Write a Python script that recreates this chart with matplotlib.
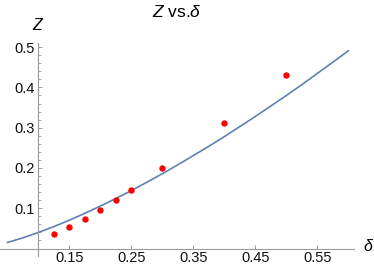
import matplotlib
matplotlib.use("Agg")
import matplotlib.pyplot as plt
from matplotlib.ticker import FixedLocator

plt.rcParams["font.family"] = ["Liberation Sans", "DejaVu Sans"]
plt.rcParams["mathtext.fontset"] = "custom"
plt.rcParams["mathtext.rm"] = "Liberation Sans"
plt.rcParams["mathtext.it"] = "Liberation Sans:italic"

# fitted curve
curve_delta = [0.05, 0.075, 0.1, 0.125, 0.15, 0.175, 0.2, 0.225, 0.25, 0.275, 0.3,
               0.325, 0.35, 0.375, 0.4, 0.425, 0.45, 0.475, 0.5, 0.525, 0.55, 0.575, 0.6]
curve_z = [0.0151, 0.0267, 0.040, 0.0546, 0.0705, 0.0875, 0.1056, 0.1244, 0.144, 0.1647, 0.186,
           0.208, 0.231, 0.254, 0.278, 0.303, 0.328, 0.354, 0.380, 0.407, 0.435, 0.4627, 0.491]

# measured points
pts_delta = [0.125, 0.15, 0.175, 0.2, 0.225, 0.25, 0.3, 0.4, 0.5]
pts_z = [0.035, 0.053, 0.073, 0.095, 0.120, 0.145, 0.1995, 0.3115, 0.431]

x_ticks = [0.15, 0.25, 0.35, 0.45, 0.55]
y_ticks = [0.1, 0.2, 0.3, 0.4, 0.5]

AXIS_GRAY = "#9a9a9a"

fig = plt.figure(figsize=(3.74, 2.68), dpi=100)
ax = fig.add_axes([0.0, 0.0445, 0.9465, 0.7962])

ax.plot(curve_delta, curve_z, color="#5e81b5", linewidth=1.2, zorder=2)
ax.plot(pts_delta, pts_z, "o", color="#ff0000", markersize=4.6, markeredgewidth=0, zorder=3)

ax.set_xlim(0.0379, 0.609)
ax.set_ylim(-0.0187, 0.511)

for side in ("top", "right"):
    ax.spines[side].set_visible(False)
ax.spines["left"].set_position(("data", 0.1))
ax.spines["bottom"].set_position(("data", 0.0))
for side in ("left", "bottom"):
    ax.spines[side].set_color(AXIS_GRAY)
    ax.spines[side].set_linewidth(0.8)

ax.xaxis.set_major_locator(FixedLocator(x_ticks))
ax.yaxis.set_major_locator(FixedLocator(y_ticks))
ax.yaxis.set_minor_locator(FixedLocator([i * 0.02 for i in range(1, 26) if i % 5 != 0]))
ax.set_xticklabels([f"{t:.2f}" for t in x_ticks])
ax.set_yticklabels([f"{t:.1f}" for t in y_ticks])

ax.tick_params(axis="both", which="major", direction="in", length=3.2, width=0.7,
               color=AXIS_GRAY, labelsize=10.5, labelcolor="#111111", pad=3)
ax.tick_params(axis="x", which="major", pad=2)
ax.tick_params(axis="y", which="minor", direction="in", length=1.8, width=0.6, color=AXIS_GRAY)

fig.text(177 / 374, 1 - 12 / 268, r"$Z$ vs.$\delta$", ha="center", va="center", fontsize=12.5)
fig.text(38 / 374, 1 - 25 / 268, r"$Z$", ha="center", va="center", fontsize=11.5)
fig.text(369 / 374, 1 - 246 / 268, r"$\delta$", ha="center", va="center", fontsize=11.5)

fig.savefig("out.png", dpi=100, facecolor="white")
